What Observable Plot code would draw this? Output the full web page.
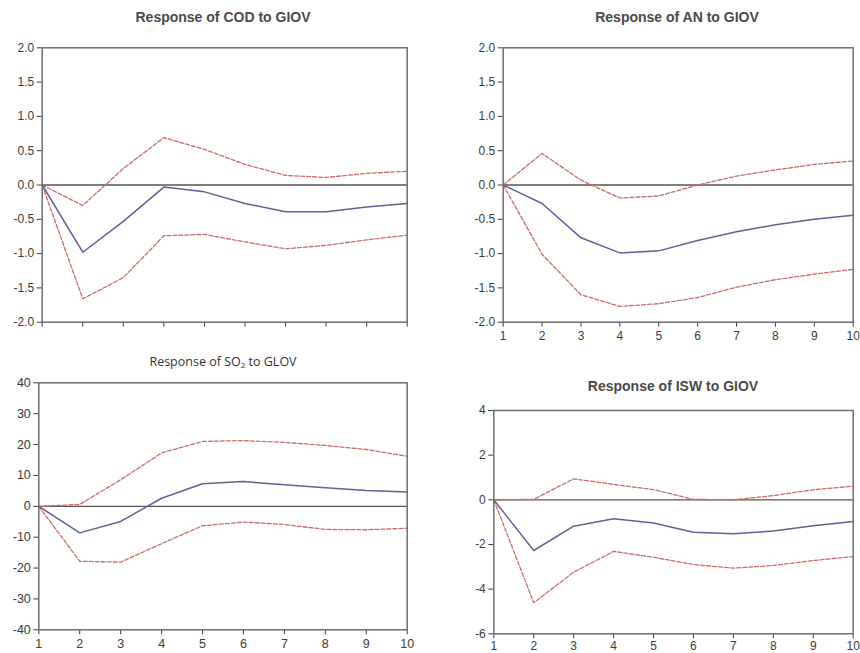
<!DOCTYPE html>
<html>
<head>
<meta charset="utf-8">
<script src="https://cdn.jsdelivr.net/npm/d3@7"></script>
<script src="https://cdn.jsdelivr.net/npm/@observablehq/plot@0.6"></script>
<style>
  html, body { margin: 0; padding: 0; background: #fff; }
  #chart { position: relative; width: 860px; height: 653px; background: #fff; overflow: hidden; }
  .panel { position: absolute; }
  .title { position: absolute; transform: translate(-50%, -50%); white-space: nowrap;
           font-family: "Liberation Sans", Arial, sans-serif; font-size: 14px; font-weight: bold; color: #4a4a4a; }
  .title.alt { font-family: "Open Sans", sans-serif; font-size: 12.5px; font-weight: 500; color: #333; }
  .title sub { font-size: 8px; vertical-align: -2px; }
</style>
</head>
<body>
<div id="chart"></div>
<script>
// Impulse-response horizon
const periods = [1, 2, 3, 4, 5, 6, 7, 8, 9, 10];

// COD response to GIOV, with upper/lower bands
const codResponse = [0, -0.98, -0.53, -0.03, -0.10, -0.27, -0.39, -0.39, -0.32, -0.27];
const codUpper    = [0, -0.30, 0.24, 0.69, 0.52, 0.30, 0.14, 0.11, 0.17, 0.20];
const codLower    = [0, -1.66, -1.35, -0.74, -0.72, -0.83, -0.93, -0.88, -0.80, -0.73];
const codTicks    = [-2, -1.5, -1, -0.5, 0, 0.5, 1, 1.5, 2];

// AN response to GIOV
const anResponse = [0, -0.27, -0.77, -0.99, -0.96, -0.81, -0.68, -0.58, -0.50, -0.44];
const anUpper    = [0, 0.46, 0.07, -0.19, -0.16, 0.0, 0.13, 0.22, 0.30, 0.35];
const anLower    = [0, -1.01, -1.60, -1.77, -1.73, -1.64, -1.49, -1.38, -1.30, -1.23];
const anTicks    = [-2, -1.5, -1, -0.5, 0, 0.5, 1, 1.5, 2];

// SO2 response to GLOV
const so2Response = [0, -8.6, -4.9, 2.6, 7.3, 8.0, 7.0, 6.0, 5.1, 4.6];
const so2Upper    = [0, 0.6, 8.6, 17.3, 21.0, 21.3, 20.7, 19.7, 18.4, 16.2];
const so2Lower    = [0, -17.8, -18.1, -12.1, -6.3, -5.1, -5.9, -7.5, -7.6, -7.1];
const so2Ticks    = [-40, -30, -20, -10, 0, 10, 20, 30, 40];

// ISW response to GIOV
const iswResponse = [0, -2.27, -1.18, -0.85, -1.04, -1.45, -1.52, -1.40, -1.16, -0.97];
const iswUpper    = [0, 0.02, 0.94, 0.69, 0.46, 0.02, 0.0, 0.19, 0.45, 0.61];
const iswLower    = [0, -4.61, -3.24, -2.31, -2.57, -2.90, -3.06, -2.94, -2.72, -2.54];
const iswTicks    = [-6, -4, -2, 0, 2, 4];

const blue = "#60609c";
const red = "#d06a6a";
const frameGray = "#6e6e6e";

function rows(values) {
  return periods.map((p, i) => ({period: p, value: values[i]}));
}

function panel({left, top, width, height, margins, yDomain, yTicks, yFormat, xLabels, xPad, fontSize, response, upper, lower}) {
  const [mt, mr, mb, ml] = margins;
  const svg = Plot.plot({
    width, height,
    marginTop: mt, marginRight: mr, marginBottom: mb, marginLeft: ml,
    style: {fontFamily: "'Liberation Sans', Arial, sans-serif", fontSize: fontSize + "px", color: "#3c3c3c", background: "transparent"},
    x: {domain: [1, 10], ticks: periods, tickSize: 5, tickPadding: xPad,
        tickFormat: xLabels ? (d => String(d)) : (() => ""), label: null},
    y: {domain: yDomain, ticks: yTicks, tickSize: 5, tickPadding: 3, tickFormat: yFormat, label: null},
    marks: [
      Plot.ruleY([0], {stroke: "#555", strokeWidth: 1.3}),
      Plot.line(rows(upper), {x: "period", y: "value", stroke: red, strokeWidth: 1.3, strokeDasharray: "4,2"}),
      Plot.line(rows(lower), {x: "period", y: "value", stroke: red, strokeWidth: 1.3, strokeDasharray: "4,2"}),
      Plot.line(rows(response), {x: "period", y: "value", stroke: blue, strokeWidth: 1.5}),
      Plot.frame({stroke: frameGray, strokeWidth: 1.5})
    ]
  });
  const div = document.createElement("div");
  div.className = "panel";
  div.style.left = left + "px";
  div.style.top = top + "px";
  div.appendChild(svg);
  return div;
}

function title(html, cx, cy, alt) {
  const t = document.createElement("div");
  t.className = "title" + (alt ? " alt" : "");
  t.style.left = cx + "px";
  t.style.top = cy + "px";
  t.innerHTML = html;
  return t;
}

const chart = document.getElementById("chart");
const fixed1 = d => d.toFixed(1);
const plain = d => String(d);

chart.appendChild(panel({left: 0, top: 35, width: 430, height: 305, margins: [12.3, 23.3, 18.3, 41.7],
  yDomain: [-2, 2], yTicks: codTicks, yFormat: fixed1, xLabels: false, xPad: 3, fontSize: 12,
  response: codResponse, upper: codUpper, lower: codLower}));
chart.appendChild(panel({left: 430, top: 35, width: 430, height: 315, margins: [12.3, 7.3, 28.3, 72.7],
  yDomain: [-2, 2], yTicks: anTicks, yFormat: fixed1, xLabels: true, xPad: 4, fontSize: 12,
  response: anResponse, upper: anUpper, lower: anLower}));
chart.appendChild(panel({left: 0, top: 370, width: 430, height: 283, margins: [12.3, 23.3, 23.7, 38.3],
  yDomain: [-40, 40], yTicks: so2Ticks, yFormat: plain, xLabels: true, xPad: 4, fontSize: 12.5,
  response: so2Response, upper: so2Upper, lower: so2Lower}));
chart.appendChild(panel({left: 430, top: 395, width: 430, height: 258, margins: [15, 7.3, 19.7, 63.3],
  yDomain: [-6, 4], yTicks: iswTicks, yFormat: plain, xLabels: true, xPad: 2.5, fontSize: 12,
  response: iswResponse, upper: iswUpper, lower: iswLower}));

chart.appendChild(title("Response of COD to GIOV", 223, 17));
chart.appendChild(title("Response of AN to GIOV", 677, 17));
chart.appendChild(title("Response of SO<sub>2</sub> to GLOV", 223, 361, true));
chart.appendChild(title("Response of ISW to GIOV", 673, 386));
</script>
</body>
</html>
